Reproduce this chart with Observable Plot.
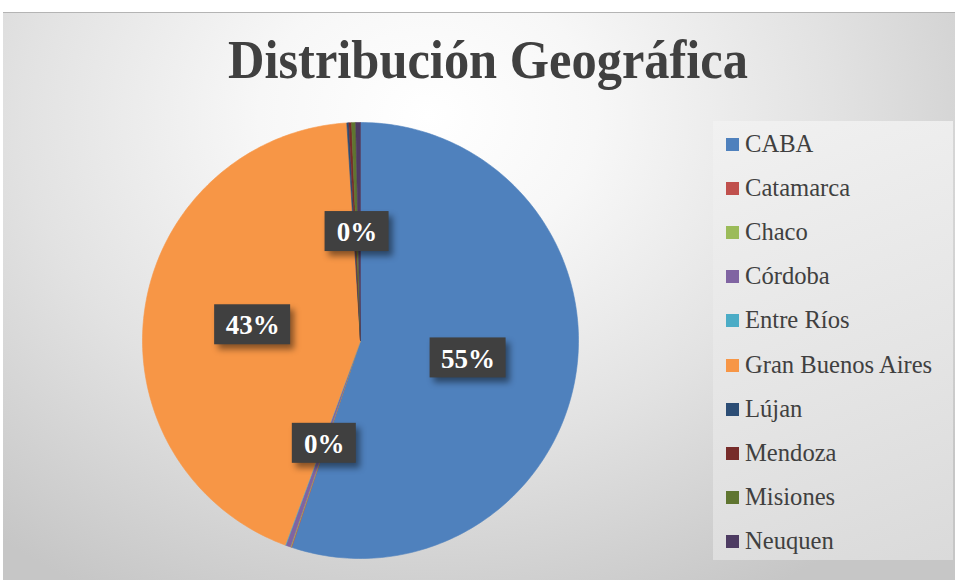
<!DOCTYPE html>
<html><head><meta charset="utf-8">
<script src="https://cdn.jsdelivr.net/npm/d3@7"></script>
<script src="https://cdn.jsdelivr.net/npm/@observablehq/plot@0.6"></script>
<style>
body{margin:0;background:#fff;}
#wrap{position:relative;width:955px;height:580px;overflow:hidden;}
#frame{position:absolute;left:3px;top:12px;width:965px;height:575px;border-top:1px solid #b4b4b4;
  background:radial-gradient(ellipse 70% 95% at 44% 18%, #ffffff 0%, #f7f7f7 25%, #e2e2e2 60%, #c6c6c6 100%);}
#title{position:absolute;top:30px;left:488px;white-space:nowrap;font-family:"Liberation Serif",serif;font-weight:bold;font-size:54px;line-height:60px;color:#404040;transform-origin:0 0;}
#legend{position:absolute;left:713px;top:121px;width:240px;height:439px;background:linear-gradient(160deg,#f1f1f1 0%,#e4e4e4 60%,#dadada 100%);}
.item{position:absolute;left:13px;height:30px;line-height:30px;font-family:"Liberation Serif",serif;font-size:24.6px;color:#404040;white-space:nowrap;}
.sw{display:inline-block;width:13px;height:13px;margin-right:6px;vertical-align:1px;}
#plot{position:absolute;left:0;top:0;}
</style></head>
<body>
<div id="wrap">
  <div id="frame"></div>
  <div id="title">Distribución Geográfica</div>
  <div id="legend"></div>
  <div id="plot"></div>
</div>
<script>
const categories = ["CABA","Catamarca","Chaco","Córdoba","Entre Ríos","Gran Buenos Aires","Lújan","Mendoza","Misiones","Neuquen"];
const values = [55.0,0.05,0.05,0.35,0.05,43.3,0.15,0.2,0.3,0.35];
const colors = ["#4F81BD","#C0504D","#9BBB59","#8064A2","#4BACC6","#F79646","#2C4D75","#772C2A","#5F7530","#4D3B62"];
const labeled = ["CABA","Córdoba","Gran Buenos Aires","Misiones"];

// title width fit
const t = document.getElementById("title");
const tw = t.getBoundingClientRect().width;
const s = 520 / tw;
t.style.transform = `scaleX(${s})`;
t.style.left = (488 - 260) + "px";

// legend
const lg = document.getElementById("legend");
categories.forEach((c,i)=>{
  const d = document.createElement("div");
  d.className = "item";
  d.style.top = (23 + i*44.1 - 15) + "px";
  d.innerHTML = `<span class="sw" style="background:${colors[i]}"></span>${c}`;
  lg.appendChild(d);
});

// pie geometry from data
const total = d3.sum(values);
let acc = 0;
const slices = categories.map((c,i)=>{
  const a0 = acc/total*2*Math.PI; acc += values[i];
  const a1 = acc/total*2*Math.PI;
  return {cat:c, a0, a1, value:values[i]};
});
const pts = [];
for (const sl of slices) {
  pts.push({cat:sl.cat, x:0, y:0});
  const n = Math.max(2, Math.ceil((sl.a1-sl.a0)/(2*Math.PI)*360));
  for (let k=0;k<=n;k++){
    const a = sl.a0 + (sl.a1-sl.a0)*k/n;
    pts.push({cat:sl.cat, x:Math.sin(a), y:Math.cos(a)});
  }
  pts.push({cat:sl.cat, x:0, y:0});
}
const W=955, H=580, cx=360, cy=340, R=218;
const labels = slices.filter(d=>labeled.includes(d.cat)).map(d=>{
  const m = (d.a0+d.a1)/2;
  const txt = Math.round(d.value/total*100) + "%";
  const hw = (txt.length*12 + 40)/2/R, hh = 20/R;
  const x = 0.5*Math.sin(m), y = 0.5*Math.cos(m);
  return {x, y, txt, x1:x-hw, x2:x+hw, y1:y-hh, y2:y+hh};
});

const chart = Plot.plot({
  width:W, height:H,
  marginLeft:cx-R, marginRight:W-(cx+R), marginTop:cy-R, marginBottom:H-(cy+R),
  x:{domain:[-1,1], axis:null},
  y:{domain:[-1,1], axis:null},
  color:{domain:categories, range:colors},
  style:{background:"transparent", overflow:"visible"},
  marks:[
    Plot.line(pts, {x:"x", y:"y", z:"cat", fill:"cat", stroke:"cat", strokeWidth:0.6, curve:"linear"}),
    Plot.rect(labels, {x1:"x1", x2:"x2", y1:"y1", y2:"y2", fill:"#000", fillOpacity:0.45, dx:4, dy:5, imageFilter:"blur(3px)"}),
    Plot.rect(labels, {x1:"x1", x2:"x2", y1:"y1", y2:"y2", fill:"#404040"}),
    Plot.text(labels, {x:"x", y:"y", text:"txt", fill:"white", fontSize:27, fontWeight:"bold", fontFamily:"Liberation Serif", dy:1})
  ]
});
document.getElementById("plot").appendChild(chart);
</script>
</body></html>
